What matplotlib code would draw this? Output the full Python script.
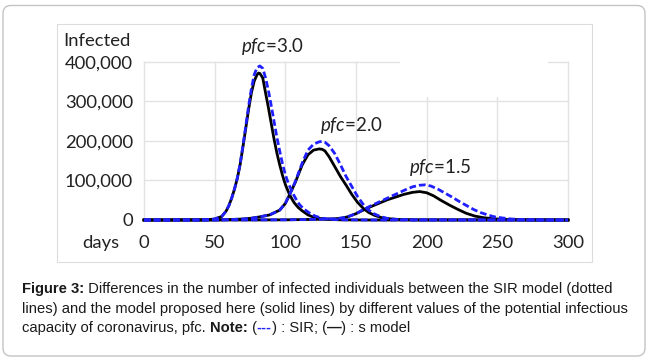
import matplotlib
matplotlib.use("Agg")
import matplotlib.pyplot as plt
from matplotlib.patches import FancyBboxPatch, Rectangle
from matplotlib.transforms import IdentityTransform

# values, infected in thousands
days_s_30 = [0, 40, 45, 50, 55, 58, 60, 62, 64, 66, 68, 70, 72, 74, 76, 78, 80, 81, 82, 84, 86, 88,
             90, 92, 94, 96, 98, 100, 103, 106, 109, 112, 116, 120, 124, 130, 140, 160, 300]
s_30 = [0, 0.2, 0.8, 2.5, 9, 22, 36, 55, 78, 105, 140, 185, 232, 280, 322, 352, 368, 372, 371, 360, 322, 285,
        245, 205, 170, 140, 113, 90, 64, 45, 32, 23, 13, 7, 4, 1.5, 0.4, 0, 0]

days_sir_30 = [0, 40, 45, 50, 55, 58, 60, 62, 64, 66, 68, 70, 72, 74, 76, 78, 80, 82, 84, 86, 88, 90,
               92, 94, 96, 98, 100, 102, 104, 106, 108, 110, 113, 117, 121, 126, 132, 140, 160, 300]
sir_30 = [0, 0.2, 0.8, 2.5, 9, 22, 36, 55, 78, 106, 142, 188, 238, 288, 333, 368, 386, 390, 384, 360, 328, 290,
          250, 210, 175, 142, 115, 94, 78, 63, 50, 39, 28, 18, 10, 4.5, 1.5, 0.5, 0, 0]

days_s_20 = [0, 50, 60, 70, 76, 82, 89, 96, 100, 103, 107, 112, 116, 120, 124, 126, 128, 131, 135, 139,
             143, 147, 151, 155, 159, 163, 168, 174, 182, 195, 300]
s_20 = [0, 0.3, 1, 2.5, 4.5, 8, 13, 25, 42, 64, 95, 140, 165, 177, 180, 179, 175, 160, 135, 110,
        88, 65, 45, 30, 19, 12, 6, 3, 1, 0.3, 0]

days_sir_20 = [0, 50, 60, 70, 76, 82, 89, 96, 100, 103, 107, 112, 116, 120, 124, 126, 128, 131, 135, 139,
               143, 147, 151, 155, 158, 162, 167, 172, 178, 190, 300]
sir_20 = [0, 0.3, 1, 2.5, 4.5, 8, 13, 25, 42, 64, 97, 145, 177, 192, 198, 199, 197, 188, 168, 140,
          110, 85, 60, 40, 28, 17, 9, 4, 1.5, 0.5, 0]

days_s_15 = [0, 80, 100, 120, 130, 135, 140, 144, 147, 150, 154, 160, 166, 172, 178, 184, 190, 195, 200,
             205, 210, 216, 222, 228, 234, 240, 246, 252, 260, 275, 300]
s_15 = [0, 0.2, 0.5, 1.5, 2.5, 3, 5, 8, 12, 16, 23, 33, 42, 51, 58, 65, 70, 72, 69,
        61, 50, 38, 27, 17, 10, 6, 3.5, 2, 1, 0.3, 0]

days_sir_15 = [0, 80, 100, 120, 130, 135, 140, 144, 147, 150, 154, 160, 166, 172, 178, 184, 190, 195, 199,
               203, 208, 213, 218, 223, 228, 233, 238, 243, 248, 254, 260, 268, 280, 300]
sir_15 = [0, 0.2, 0.5, 1.5, 2.5, 3, 5, 8, 12, 16, 24, 35, 45, 55, 65, 75, 84, 88, 89,
          86, 78, 68, 58, 47, 37, 27, 19, 13, 8, 5, 2.5, 1, 0.3, 0]

x_ticks = [0, 50, 100, 150, 200, 250, 300]
y_ticks = [0, 100, 200, 300, 400]
labels = ["3.0", "2.0", "1.5"]
label_pos = [(90.6, 438), (146.5, 240), (209.5, 132)]

plt.rcParams['mathtext.fontset'] = 'custom'
plt.rcParams['mathtext.rm'] = 'Lato'
plt.rcParams['mathtext.it'] = 'Lato:italic'

W, H = 648, 361
fig = plt.figure(figsize=(W / 100, H / 100), dpi=100)

# outer rounded frame and inner chart box
fig.patches.append(FancyBboxPatch((3, 5), 642, 350.5, boxstyle="round,pad=0,rounding_size=8",
                                  transform=IdentityTransform(), facecolor="none",
                                  edgecolor="#c4c4c4", linewidth=1.0, figure=fig, zorder=-1))
fig.patches.append(Rectangle((57 / W, 1 - 262 / H), 535 / W, 238 / H, transform=fig.transFigure,
                             facecolor="none", edgecolor="#dcdcdc", linewidth=0.8, figure=fig, zorder=-1))

ax = fig.add_axes([144 / W, 1 - 220 / H, 424 / W, 158 / H])
ax.set_facecolor("none")

grid_c = "#e2e2e2"
for xv in x_ticks:
    ax.axvline(xv, color=grid_c, lw=1.0, zorder=0, clip_on=False)
for yv in y_ticks:
    ax.axhline(yv, color=grid_c, lw=1.0, zorder=0, clip_on=False)
# white patch where a legend box had been
ax.add_patch(Rectangle((181, 311), 105, 100, facecolor="white", edgecolor="none", zorder=1, clip_on=False))

black_sets = [(days_s_30, s_30), (days_s_20, s_20), (days_s_15, s_15)]
blue_sets = [(days_sir_30, sir_30), (days_sir_20, sir_20), (days_sir_15, sir_15)]
for d, v in black_sets:
    ax.plot(d, v, color="black", lw=2.0, zorder=3, clip_on=False, solid_joinstyle="round")
for d, v in blue_sets:
    ax.plot(d, v, color="#1f1fff", lw=2.0, dashes=(2.4, 1.1), zorder=4, clip_on=False)

for lab, (xx, yy) in zip(labels, label_pos):
    ax.text(xx, yy, r"$\mathit{pfc}$=" + lab, ha="center", va="center", fontsize=13.5,
            family="Lato", color="#222222", clip_on=False)

ax.set_xlim(0, 300)
ax.set_ylim(0, 400)
ax.set_xticks(x_ticks)
ax.set_yticks(y_ticks)
ax.set_xticklabels([str(t) for t in x_ticks])
ax.set_yticklabels([f"{t * 1000:,}" for t in y_ticks])
for lbl in ax.get_xticklabels() + ax.get_yticklabels():
    lbl.set_family("Lato")
    lbl.set_fontsize(13.3)
    lbl.set_color("#222222")
ax.tick_params(axis="both", length=0)
ax.tick_params(axis="y", pad=8)
ax.tick_params(axis="x", pad=11)
for sp in ax.spines.values():
    sp.set_visible(False)

fig.text(63 / W, 1 - 41 / H, "Infected", ha="left", va="center", fontsize=13.3, family="Lato", color="#222222")
fig.text(119 / W, 1 - 243 / H, "days", ha="right", va="center", fontsize=13.3, family="Lato", color="#222222")

# caption, drawn piece by piece
renderer = fig.canvas.get_renderer()


def seg_width(s, size, weight):
    t1 = fig.text(0, 0, "a" + s + "a", fontsize=size, family="Liberation Sans", weight=weight)
    t2 = fig.text(0, 0, "aa", fontsize=size, family="Liberation Sans", weight=weight)
    w = t1.get_window_extent(renderer).width - t2.get_window_extent(renderer).width
    t1.remove()
    t2.remove()
    return w


line2 = "lines) and the model proposed here (solid lines) by different values of the potential infectious"
cap_size = 10 * 606 / seg_width(line2, 10, "normal")

cap_lines = [
    [("Figure 3:", "bold", "#1a1a1a"),
     (" Differences in the number of infected individuals between the SIR model (dotted", "normal", "#1a1a1a")],
    [(line2, "normal", "#1a1a1a")],
    [("capacity of coronavirus, pfc. ", "normal", "#1a1a1a"), ("Note:", "bold", "#1a1a1a"),
     (" (", "normal", "#1a1a1a"), ("---", "bold", "#2222ff"), (") : SIR; (", "normal", "#1a1a1a"),
     ("\u2014", "bold", "#1a1a1a"), (") : s model", "normal", "#1a1a1a")],
]
cap_y = [289, 309, 328]
for parts, yy in zip(cap_lines, cap_y):
    x = 22
    for s, wgt, col in parts:
        fig.text(x, H - yy, s, transform=IdentityTransform(), fontsize=cap_size, family="Liberation Sans",
                 weight=wgt, color=col, va="center", ha="left")
        x += seg_width(s, cap_size, wgt)

fig.savefig("out.png", dpi=100, facecolor="white")
